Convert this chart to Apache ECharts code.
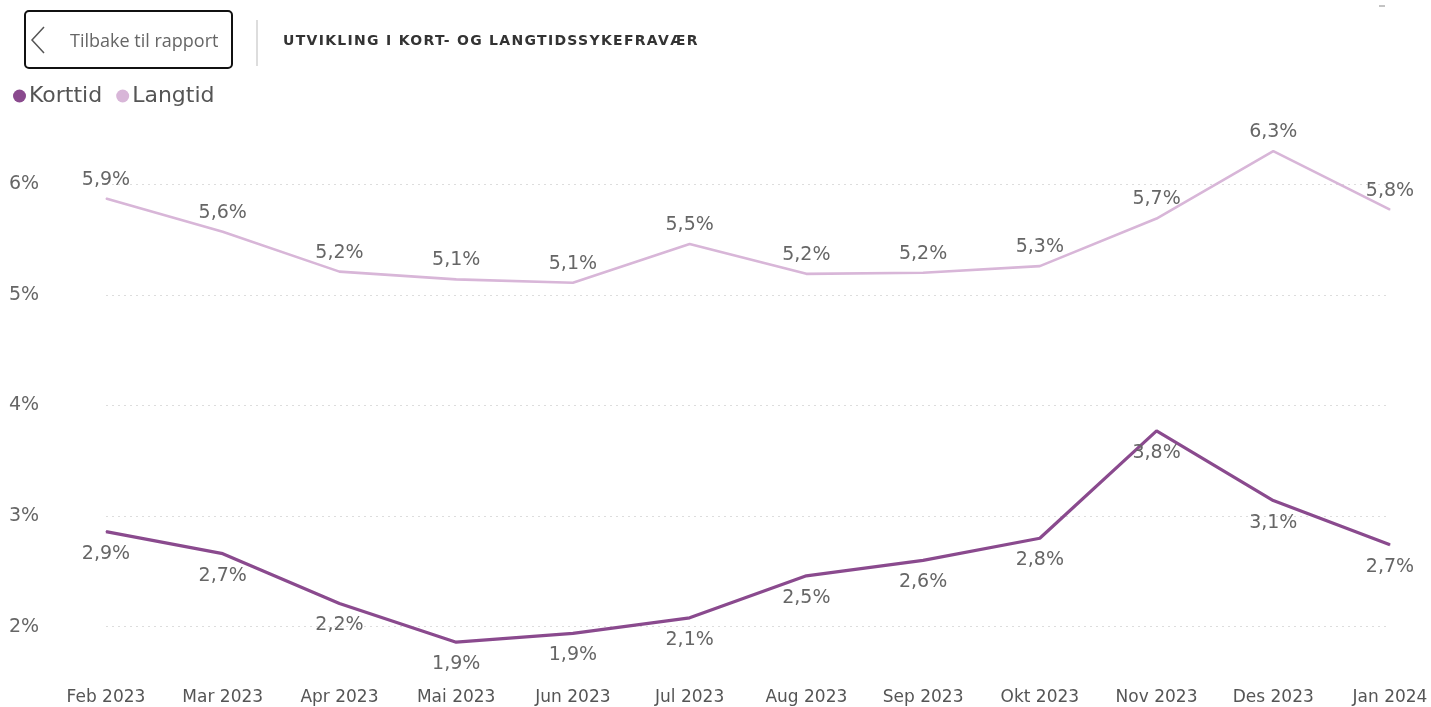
<!DOCTYPE html>
<html><head><meta charset="utf-8">
<script src="https://cdn.jsdelivr.net/npm/echarts@6/dist/echarts.min.js"></script>
<style>
html,body{margin:0;padding:0;background:#fff}
#wrap{position:relative;width:1431px;height:707px}
#c{width:1431px;height:707px}
#title{position:absolute;left:283px;top:32px;font:bold 14px 'DejaVu Sans',sans-serif;letter-spacing:1.3px;color:#333;white-space:nowrap}
</style>
</head><body><div id="wrap"><div id="c"></div><div id="title">UTVIKLING I KORT- OG LANGTIDSSYKEFRAVÆR</div></div>
<script>
const categories = ['Feb 2023','Mar 2023','Apr 2023','Mai 2023','Jun 2023','Jul 2023','Aug 2023','Sep 2023','Okt 2023','Nov 2023','Des 2023','Jan 2024'];
const korttid = [2.86, 2.66, 2.21, 1.86, 1.94, 2.08, 2.46, 2.60, 2.80, 3.77, 3.14, 2.74];
const langtid = [5.87, 5.57, 5.21, 5.14, 5.11, 5.46, 5.19, 5.20, 5.26, 5.69, 6.30, 5.77];
const yTicks = [2, 3, 4, 5, 6];

const fmt = v => v.toFixed(1).replace('.', ',') + '%';
const FONT = 'DejaVu Sans, sans-serif';
const chart = echarts.init(document.getElementById('c'), null, {renderer: 'canvas'});
chart.setOption({
  animation: false,
  textStyle: {fontFamily: FONT},
  graphic: [
    {type: 'rect', shape: {x: 25, y: 11, width: 207, height: 57, r: 4}, style: {fill: '#fff', stroke: '#111', lineWidth: 2}},
    {type: 'polyline', shape: {points: [[44, 27], [32, 40], [44, 53]]}, style: {fill: 'none', stroke: '#555', lineWidth: 1.5}},
    {type: 'text', x: 70, y: 42, style: {text: 'Tilbake til rapport', fill: '#666', font: '18px Open Sans, sans-serif', textVerticalAlign: 'middle'}},
    {type: 'line', shape: {x1: 257, y1: 20, x2: 257, y2: 66}, style: {stroke: '#bbb', lineWidth: 1}},
    {type: 'line', shape: {x1: 1379, y1: 6, x2: 1385, y2: 6}, style: {stroke: '#888', lineWidth: 1}}
  ],
  legend: {
    left: 8, top: 80, itemGap: 14, itemWidth: 13, itemHeight: 13, icon: 'circle',
    textStyle: {fontSize: 22, color: '#555', fontFamily: FONT, padding: [0, 0, 0, -2]},
    data: ['Korttid', 'Langtid']
  },
  grid: {left: 106, right: 41, top: 140, bottom: 25},
  xAxis: {
    type: 'category', data: categories, boundaryGap: false,
    axisLine: {show: false}, axisTick: {show: false},
    axisLabel: {fontSize: 17, color: '#555', margin: 7, fontFamily: FONT}
  },
  yAxis: {
    type: 'value', min: 1.5, max: 6.4,
    axisLine: {show: false}, axisTick: {show: false},
    axisLabel: {
      fontSize: 19, color: '#666', align: 'left', margin: 97, fontFamily: FONT,
      showMinLabel: false, showMaxLabel: false,
      formatter: v => yTicks.includes(v) ? v + '%' : ''
    },
    splitLine: {show: true, showMinLine: false, showMaxLine: false, lineStyle: {color: '#ddd', type: [2, 4], width: 1}}
  },
  series: [
    {
      name: 'Korttid', type: 'line', data: korttid, symbol: 'circle', symbolSize: 1, color: '#8a4a8e',
      lineStyle: {width: 3.2, color: '#8a4a8e'},
      label: {show: true, position: 'bottom', distance: 12, fontSize: 19, color: '#666', fontFamily: FONT, formatter: p => fmt(p.value)}
    },
    {
      name: 'Langtid', type: 'line', data: langtid, symbol: 'circle', symbolSize: 1, color: '#d8b6d8',
      lineStyle: {width: 2.6, color: '#d8b6d8'},
      label: {show: true, position: 'top', distance: 9, fontSize: 19, color: '#666', fontFamily: FONT, formatter: p => fmt(p.value)}
    }
  ]
});
</script></body></html>
